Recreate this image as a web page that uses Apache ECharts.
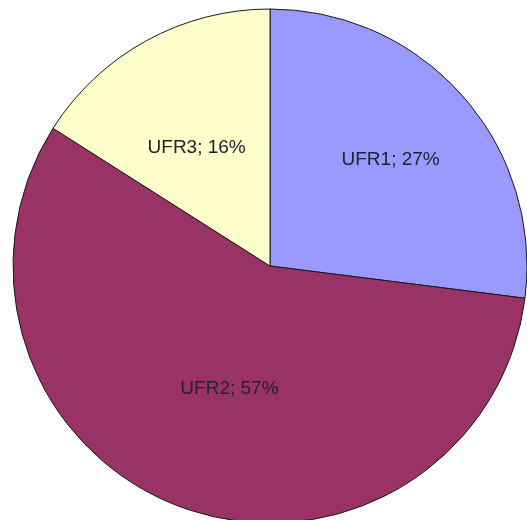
<!DOCTYPE html>
<html>
<head>
<meta charset="utf-8">
<script src="https://cdn.jsdelivr.net/npm/echarts@6/dist/echarts.min.js"></script>
<style>
  html, body { margin: 0; padding: 0; background: #ffffff; }
  #chart { width: 527px; height: 520px; }
</style>
</head>
<body>
<div id="chart"></div>
<script>
// Share of each UFR (percent)
const categories = ['UFR1', 'UFR2', 'UFR3'];
const shares = [27, 57, 16];
const sliceColors = ['#9999FF', '#993366', '#FFFFCC'];

// small nudges so each label sits where it reads best inside its slice
const labelNudge = { UFR1: [22, -19], UFR2: [4, -1], UFR3: [-10, -3] };

const chart = echarts.init(document.getElementById('chart'), null, { renderer: 'canvas' });

chart.setOption({
  backgroundColor: '#ffffff',
  animation: false,
  series: [{
    type: 'pie',
    center: [270, 266],
    radius: 257,
    startAngle: 90,
    clockwise: true,
    avoidLabelOverlap: false,
    emphasis: { disabled: true },
    itemStyle: { borderColor: '#1a1a1a', borderWidth: 1 },
    label: {
      show: true,
      position: 'inside',
      formatter: '{b}; {c}%',
      fontFamily: 'Liberation Sans, Arial, sans-serif',
      fontSize: 19,
      color: '#222233'
    },
    labelLine: { show: false },
    data: categories.map((name, i) => ({
      name: name,
      value: shares[i],
      itemStyle: { color: sliceColors[i] },
      label: { offset: labelNudge[name] }
    }))
  }]
});
</script>
</body>
</html>
